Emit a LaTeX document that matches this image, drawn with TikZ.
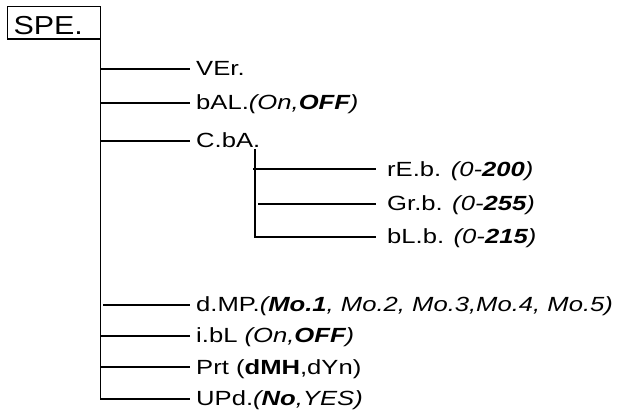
\documentclass[tikz,border=0pt]{standalone}
\usepackage{fontspec}
\setmainfont{Liberation Sans}[FakeStretch=1.25]
\newfontfamily\boxfont{Liberation Sans}[FakeStretch=1.17]
\usetikzlibrary{positioning}

\tikzset{
  menuline/.style={line width=1.8pt, line cap=rect},
  item/.style={anchor=west, inner ysep=0pt, inner xsep=7pt, text height=16pt, text depth=2pt,
    font=\fontsize{20.5}{24}\selectfont},
  subitem/.style={item, inner xsep=12pt},
  menubox/.style={draw, line width=1.6pt, anchor=north west, inner ysep=0pt, inner xsep=6pt,
    text width=81pt, align=left, text height=27.6pt, text depth=5pt,
    font=\boxfont\fontsize{26}{28}\selectfont}
}

\begin{document}
\begin{tikzpicture}[x=1pt, y=-1pt]
  \useasboundingbox (0,0) rectangle (638,414);

  % top menu entry
  \node[menubox] (spe) at (6.7,5.7) {SPE.};
  \coordinate (trunk) at ([xshift=-0.8pt]spe.south east);

  % first level
  \node[item] (ver) at (189,69)    {VEr.};
  \node[item] (bal) at (189,103)   {bAL.\textit{(On,\textbf{OFF})}};
  \node[item] (cba) at (189,140.7) {C.bA.};
  \node[item] (dmp) at (189,305)   {d.MP.\textit{(\textbf{Mo.1}, Mo.2, Mo.3,Mo.4, Mo.5)}};
  \node[item] (ibl) at (189,335.7) {i.bL \textit{(On,\textbf{OFF})}};
  \node[item] (prt) at (189,367.3) {Prt (\textbf{dMH},dYn)};
  \node[item] (upd) at (189,398.7) {UPd.\textit{(\textbf{No},YES)}};

  % colour balance
  \coordinate (subtop) at (255,150);
  \node[subitem] (reb) at (375,169.3) {rE.b. \textit{(0-\textbf{200})}};
  \node[subitem] (grb) at (375,204)   {Gr.b. \textit{(0-\textbf{255})}};
  \node[subitem] (blb) at (375,236.7) {bL.b. \textit{(0-\textbf{215})}};

  \draw[menuline] (trunk) |- (upd.west);
  \foreach \n in {ver,bal,cba,ibl,prt}
    \draw[menuline] (trunk |- \n.west) -- (\n.west);
  \draw[menuline] ([xshift=3.5pt]trunk |- dmp.west) -- (dmp.west);

  \draw[menuline] (subtop) |- (blb.west);
  \draw[menuline] ([xshift=-1.5pt]subtop |- reb.west) -- (reb.west);
  \draw[menuline] ([xshift=4pt]subtop |- grb.west) -- (grb.west);
\end{tikzpicture}
\end{document}
